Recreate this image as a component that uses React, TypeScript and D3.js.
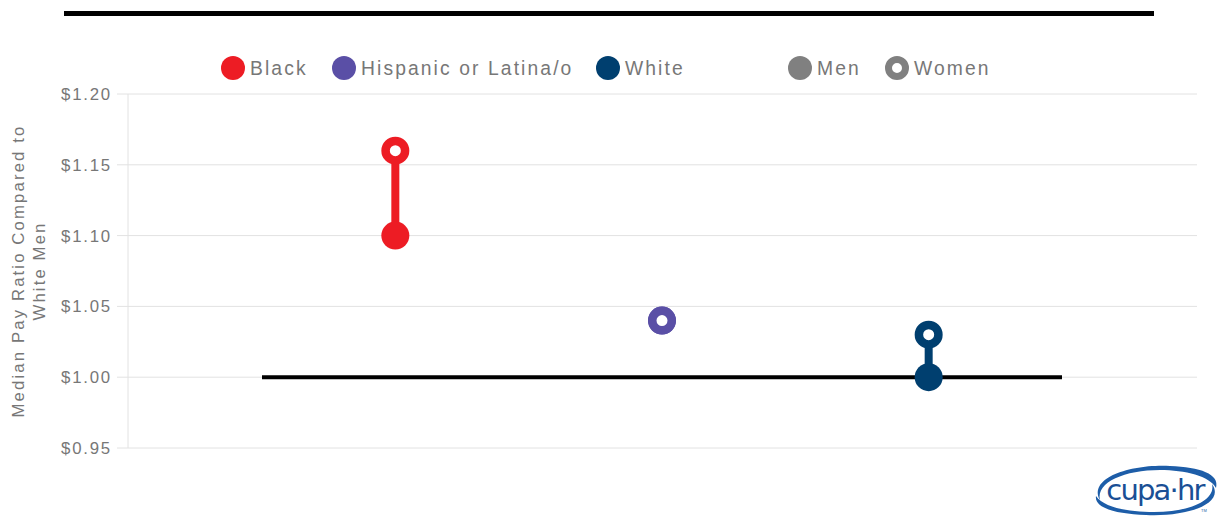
import React from "react";
import * as d3 from "d3";

const categories = ["Black", "Hispanic or Latina/o", "White"];
const menValues = [1.1, 1.04, 1.0];
const womenValues = [1.16, 1.04, 1.03];
const seriesColors = ["#ED1C24", "#5A4FA6", "#003F6F"];
const yTicks = [0.95, 1.0, 1.05, 1.1, 1.15, 1.2];
const genderLegend = ["Men", "Women"];
const yTitle = ["Median Pay Ratio Compared to", "White Men"];
const baselineValue = 1.0;

export default function App() {
  const W = 1225;
  const H = 517;
  const plotLeft = 128;
  const plotRight = 1197;
  const y = d3.scaleLinear().domain([0.95, 1.2]).range([448, 94]);
  const x = d3.scaleBand<string>().domain(categories).range([262, 1062]);
  const cx = (c: string) => (x(c) ?? 0) + x.bandwidth() / 2;
  const fmt = (v: number) => "$" + d3.format(".2f")(v);

  const textColor = "#777";
  const font = "Arial, 'Liberation Sans', sans-serif";

  const legendRace = [
    { label: categories[0], x: 233, color: seriesColors[0] },
    { label: categories[1], x: 344, color: seriesColors[1] },
    { label: categories[2], x: 608, color: seriesColors[2] },
  ];
  const legendGender = [
    { label: genderLegend[0], x: 800, open: false },
    { label: genderLegend[1], x: 897, open: true },
  ];

  return (
    <svg
      width={W}
      height={H}
      style={{ position: "absolute", left: 0, top: 0, background: "#fff" }}
      fontFamily={font}
    >
      {/* top rule */}
      <line x1={64} x2={1154} y1={13.5} y2={13.5} stroke="#000" strokeWidth={5} />

      {/* legend */}
      {legendRace.map((d) => (
        <g key={d.label}>
          <circle cx={d.x} cy={68} r={12} fill={d.color} />
          <text x={d.x + 17} y={74.5} fontSize={19.3} letterSpacing={2.1} fill={textColor}>
            {d.label}
          </text>
        </g>
      ))}
      {legendGender.map((d) => (
        <g key={d.label}>
          {d.open ? (
            <circle cx={d.x} cy={68} r={8.5} fill="#fff" stroke="#808080" strokeWidth={7} />
          ) : (
            <circle cx={d.x} cy={68} r={12} fill="#808080" />
          )}
          <text x={d.x + 17} y={74.5} fontSize={19.3} letterSpacing={2.1} fill={textColor}>
            {d.label}
          </text>
        </g>
      ))}

      {/* gridlines and y ticks */}
      {yTicks.map((t) => (
        <g key={t}>
          <line x1={117} x2={plotRight} y1={y(t)} y2={y(t)} stroke="#e2e2e2" strokeWidth={1} />
          <text
            x={112}
            y={y(t) + 6}
            textAnchor="end"
            fontSize={16.8}
            letterSpacing={1.8}
            fill={textColor}
          >
            {fmt(t)}
          </text>
        </g>
      ))}
      <line x1={plotLeft} x2={plotLeft} y1={y(1.2)} y2={y(0.95)} stroke="#e2e2e2" strokeWidth={1} />

      {/* y title */}
      <g transform="translate(0,271) rotate(-90)">
        <text x={0} y={24} textAnchor="middle" fontSize={16.8} letterSpacing={2.1} fill={textColor}>
          {yTitle[0]}
        </text>
        <text x={0} y={45} textAnchor="middle" fontSize={16.8} letterSpacing={2.1} fill={textColor}>
          {yTitle[1]}
        </text>
      </g>

      {/* baseline */}
      <line
        x1={x.range()[0]}
        x2={x.range()[1]}
        y1={y(baselineValue)}
        y2={y(baselineValue)}
        stroke="#000"
        strokeWidth={4}
      />

      {/* dumbbells */}
      {categories.map((c, i) => (
        <g key={c}>
          <line
            x1={cx(c)}
            x2={cx(c)}
            y1={y(menValues[i])}
            y2={y(womenValues[i])}
            stroke={seriesColors[i]}
            strokeWidth={8}
          />
          <circle cx={cx(c)} cy={y(menValues[i])} r={14} fill={seriesColors[i]} />
          <circle
            cx={cx(c)}
            cy={y(womenValues[i])}
            r={9.75}
            fill="#fff"
            stroke={seriesColors[i]}
            strokeWidth={8.5}
          />
        </g>
      ))}

      {/* logo */}
      <g>
        <path
          d="M1100,500 C1088,478 1130,464 1170,466 C1200,467 1220,474 1216,488 C1210,476 1185,470 1160,470 C1125,470 1096,482 1100,500 Z"
          fill="#1D5DA8"
        />
        <path
          d="M1212,484 C1226,504 1186,517 1146,515 C1116,514 1094,508 1096,496 C1104,508 1130,512 1154,512 C1190,512 1216,500 1212,484 Z"
          fill="#1D5DA8"
        />
        <text
          x={1155}
          y={500}
          textAnchor="middle"
          fontSize={29}
          fontFamily="Verdana, 'DejaVu Sans', sans-serif"
          letterSpacing={-1.8}
          fill="#1A4F95"
        >
          cupa·hr
        </text>
        <text x={1201} y={512} fontSize={4} fill="#1D5DA8">
          TM
        </text>
      </g>
    </svg>
  );
}
